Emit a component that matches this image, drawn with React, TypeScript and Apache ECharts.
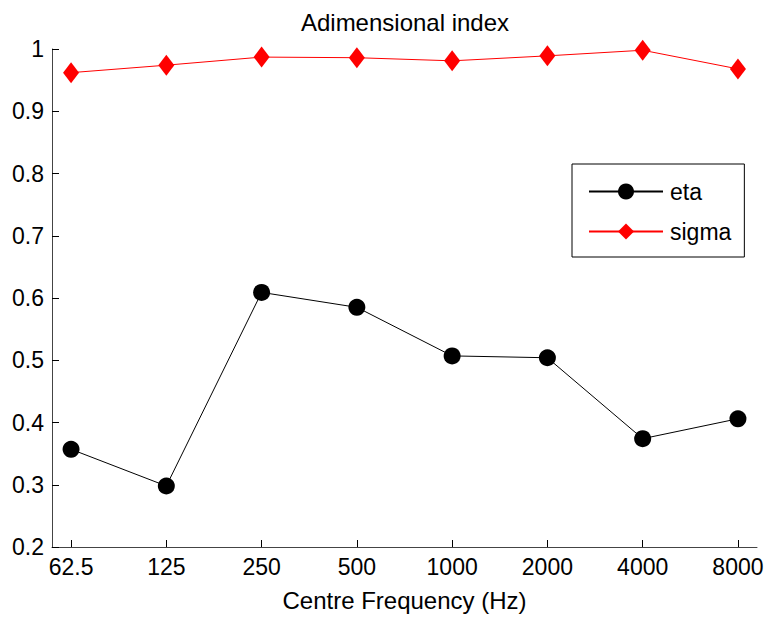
import React, { useEffect, useRef } from "react";
import * as echarts from "echarts";

// Octave-band centre frequencies (Hz)
const bands: string[] = ["62.5", "125", "250", "500", "1000", "2000", "4000", "8000"];
const etaValues: number[] = [0.357, 0.298, 0.609, 0.585, 0.507, 0.504, 0.374, 0.406];
const sigmaValues: number[] = [0.962, 0.974, 0.987, 0.986, 0.981, 0.989, 0.998, 0.968];
const yTicks = { min: 0.2, max: 1, step: 0.1 };

const FONT = "'Liberation Sans', Arial, Helvetica, sans-serif";

export default function App() {
  const ref = useRef<HTMLDivElement>(null);

  useEffect(() => {
    document.body.style.margin = "0";
    if (!ref.current) return;
    const chart = echarts.init(ref.current, undefined, { renderer: "svg" });
    const idx = bands.map((_, i) => i);
    chart.setOption({
      animation: false,
      backgroundColor: "#ffffff",
      textStyle: { fontFamily: FONT },
      title: {
        text: "Adimensional index",
        left: 405,
        top: 10,
        padding: 0,
        textAlign: "center",
        textStyle: { fontFamily: FONT, fontSize: 24, fontWeight: "normal", color: "#000" },
      },
      grid: { left: 52, right: 10, top: 49, bottom: 68, containLabel: false },
      legend: {
        orient: "vertical",
        left: 572,
        top: 164,
        padding: [16, 13, 14, 16],
        itemWidth: 74,
        itemHeight: 20,
        itemGap: 17,
        borderColor: "#000",
        borderWidth: 1,
        backgroundColor: "#fff",
        textStyle: { fontFamily: FONT, fontSize: 23, color: "#000", padding: [0, 0, 0, 2] },
        data: ["eta", "sigma"],
      },
      xAxis: {
        type: "value",
        min: -0.2,
        max: 7.2,
        name: "Centre Frequency (Hz)",
        nameLocation: "middle",
        nameGap: 41,
        nameTextStyle: { fontFamily: FONT, fontSize: 24, color: "#000" },
        splitLine: { show: false },
        axisLine: { onZero: false, lineStyle: { color: "#444", width: 1 } },
        axisTick: { show: true, inside: true, length: 7, customValues: idx, lineStyle: { color: "#000" } },
        axisLabel: {
          customValues: idx,
          margin: 8,
          fontFamily: FONT,
          fontSize: 23,
          color: "#000",
          formatter: (v: number) => bands[Math.round(v)] ?? "",
        },
      },
      yAxis: {
        type: "value",
        min: yTicks.min,
        max: yTicks.max,
        interval: yTicks.step,
        splitLine: { show: false },
        axisLine: { show: true, onZero: false, lineStyle: { color: "#444", width: 1 } },
        axisTick: { show: true, inside: true, length: 7, lineStyle: { color: "#000" } },
        axisLabel: {
          margin: 8,
          fontFamily: FONT,
          fontSize: 23,
          color: "#000",
          formatter: (v: number) => String(Math.round(v * 10) / 10),
        },
      },
      series: [
        {
          name: "eta",
          type: "line",
          data: etaValues.map((v, i) => [i, v]),
          symbol: "circle",
          symbolSize: 17,
          lineStyle: { color: "#000", width: 1 },
          itemStyle: { color: "#000" },
        },
        {
          name: "sigma",
          type: "line",
          data: sigmaValues.map((v, i) => [i, v]),
          symbol: "diamond",
          symbolSize: [16, 21],
          lineStyle: { color: "#ff0000", width: 1 },
          itemStyle: { color: "#ff0000" },
        },
      ],
    });
    return () => chart.dispose();
  }, []);

  return <div ref={ref} style={{ width: 767, height: 617 }} />;
}
